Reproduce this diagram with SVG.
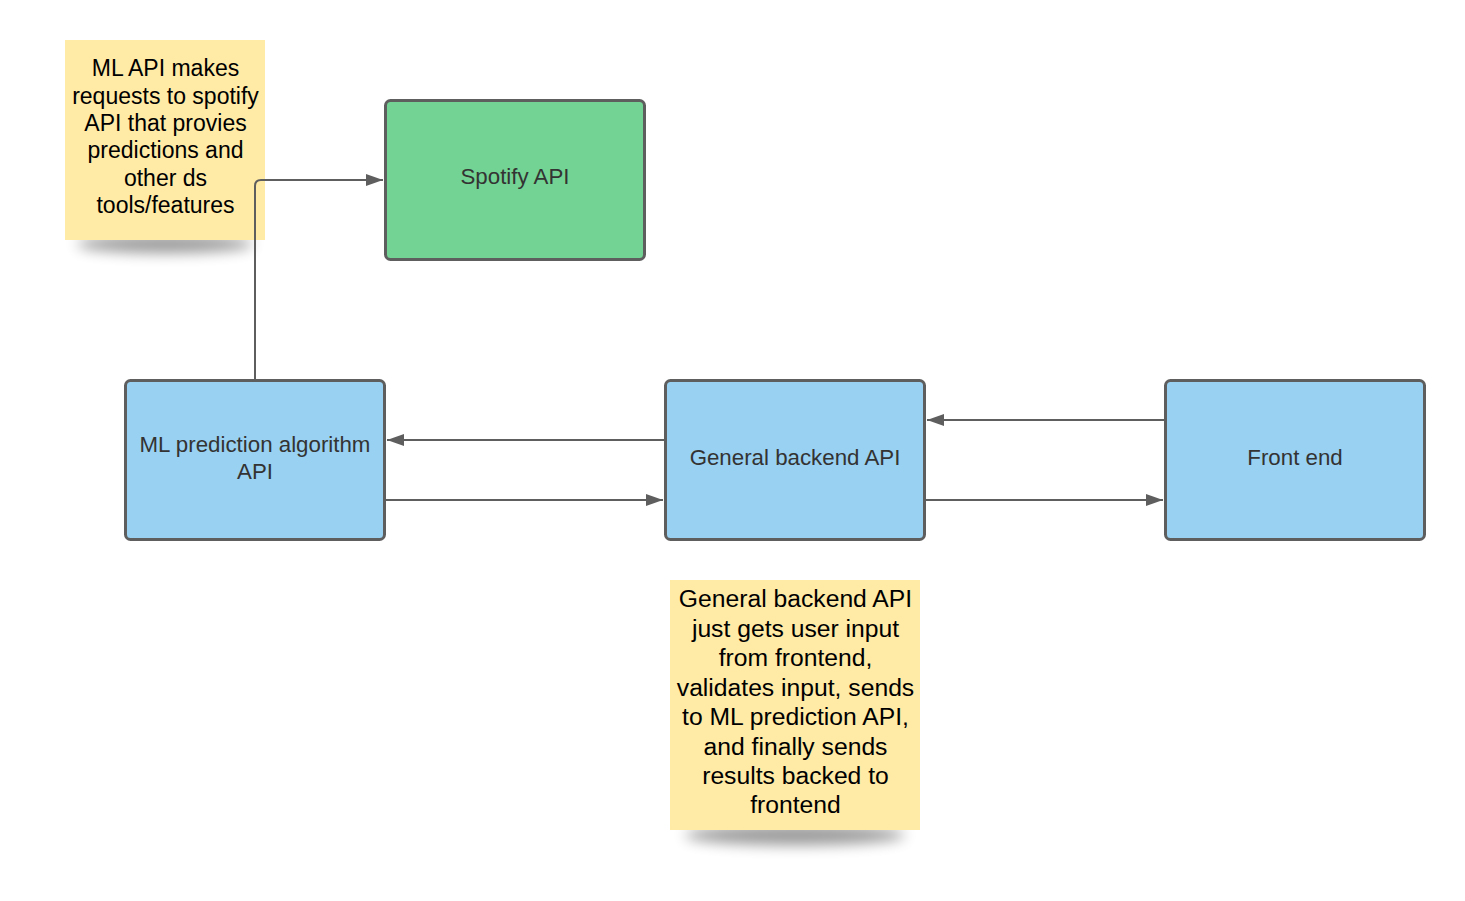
<svg xmlns="http://www.w3.org/2000/svg" width="1465" height="901" viewBox="0 0 1465 901">
<style>
.box{stroke:#5e5e5e;stroke-width:3}
.blue{fill:#99d1f2}
.green{fill:#73d394}
.lbl{font-family:"Liberation Sans",Arial,sans-serif;font-size:22.3px;fill:#333333;text-anchor:middle}
.note{fill:#ffeaa6}
.ntxt{font-family:"Liberation Sans",Arial,sans-serif;fill:#000000;text-anchor:middle}
.edge{fill:none;stroke:#5e5e5e;stroke-width:2}
</style>
<defs>
<marker id="arr" viewBox="0 0 17 12" refX="17" refY="6" markerWidth="17" markerHeight="12" markerUnits="userSpaceOnUse" orient="auto">
<path d="M0,0 L17,6 L0,12 Z" fill="#5e5e5e"/>
</marker>
<filter id="sh" x="-30%" y="-150%" width="160%" height="400%">
<feGaussianBlur stdDeviation="7"/>
</filter>
</defs>
<rect width="1465" height="901" fill="#ffffff"/>

<g id="note1">
<ellipse cx="165" cy="244" rx="88" ry="9" fill="#000" opacity="0.4" filter="url(#sh)"/>
<rect class="note" x="65" y="40" width="200" height="200"/>
<text class="ntxt" font-size="23"><tspan x="165.5" y="76">ML API makes</tspan><tspan x="165.5" y="104">requests to spotify</tspan><tspan x="165.5" y="131">API that provies</tspan><tspan x="165.5" y="158">predictions and</tspan><tspan x="165.5" y="186">other ds</tspan><tspan x="165.5" y="213">tools/features</tspan></text>
</g>

<g id="note2">
<ellipse cx="795" cy="835" rx="110" ry="10" fill="#000" opacity="0.4" filter="url(#sh)"/>
<rect class="note" x="670" y="580" width="250" height="250"/>
<text class="ntxt" font-size="24.7"><tspan x="795.5" y="607">General backend API</tspan><tspan x="795.5" y="637">just gets user input</tspan><tspan x="795.5" y="666">from frontend,</tspan><tspan x="795.5" y="696">validates input, sends</tspan><tspan x="795.5" y="725">to ML prediction API,</tspan><tspan x="795.5" y="755">and finally sends</tspan><tspan x="795.5" y="784">results backed to</tspan><tspan x="795.5" y="813">frontend</tspan></text>
</g>

<g id="connectors">
<path class="edge" d="M255,380 L255,186 Q255,180 261,180 L383,180" marker-end="url(#arr)"/>
<path class="edge" d="M665,440 L387,440" marker-end="url(#arr)"/>
<path class="edge" d="M386,500 L663,500" marker-end="url(#arr)"/>
<path class="edge" d="M1165,420 L927,420" marker-end="url(#arr)"/>
<path class="edge" d="M926,500 L1163,500" marker-end="url(#arr)"/>
</g>

<g id="spotify">
<rect class="box green" x="385.5" y="100.5" width="259" height="159" rx="5"/>
<text class="lbl" x="515" y="184">Spotify API</text>
</g>

<g id="ml">
<rect class="box blue" x="125.5" y="380.5" width="259" height="159" rx="5"/>
<text class="lbl"><tspan x="255" y="452">ML prediction algorithm</tspan><tspan x="255" y="479">API</tspan></text>
</g>

<g id="backend">
<rect class="box blue" x="665.5" y="380.5" width="259" height="159" rx="5"/>
<text class="lbl" x="795" y="465">General backend API</text>
</g>

<g id="frontend">
<rect class="box blue" x="1165.5" y="380.5" width="259" height="159" rx="5"/>
<text class="lbl" x="1295" y="465">Front end</text>
</g>
</svg>
